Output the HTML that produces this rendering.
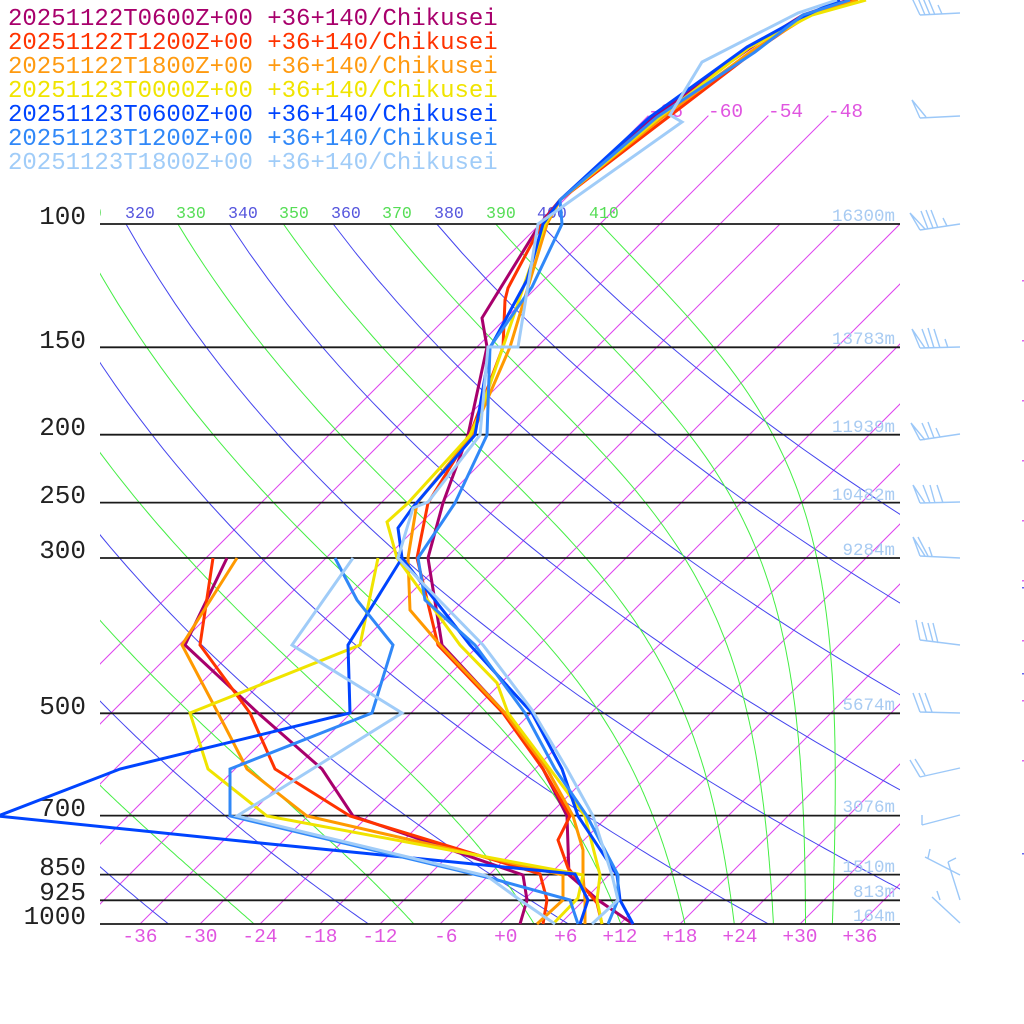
<!DOCTYPE html>
<html><head><meta charset="utf-8">
<style>
html,body{margin:0;padding:0;background:#fff;}
svg{display:block;}
text{font-family:"Liberation Mono","DejaVu Sans Mono",monospace;}
</style></head><body>
<svg xmlns="http://www.w3.org/2000/svg" width="1024" height="1024" viewBox="0 0 1024 1024">
<defs>
<clipPath id="pc"><rect x="100" y="0" width="800" height="924"/></clipPath>
<clipPath id="lc"><rect x="100" y="190" width="800" height="40"/></clipPath>
</defs>
<rect x="0" y="0" width="1024" height="1024" fill="#fff"/>
<g id="bg" clip-path="url(#pc)" fill="none"></g>

<!-- isobars -->
<g stroke="#1a1a1a" stroke-width="1.8">
<line x1="100" y1="224" x2="900" y2="224"/>
<line x1="100" y1="347.3" x2="900" y2="347.3"/>
<line x1="100" y1="434.7" x2="900" y2="434.7"/>
<line x1="100" y1="502.6" x2="900" y2="502.6"/>
<line x1="100" y1="558" x2="900" y2="558"/>
<line x1="100" y1="713.3" x2="900" y2="713.3"/>
<line x1="100" y1="815.6" x2="900" y2="815.6"/>
<line x1="100" y1="874.6" x2="900" y2="874.6"/>
<line x1="100" y1="900.3" x2="900" y2="900.3"/>
<line x1="100" y1="924" x2="900" y2="924"/>
</g>

<!-- pressure labels -->
<g font-size="26" fill="#222" text-anchor="end">
<text x="86" y="224">100</text>
<text x="86" y="348">150</text>
<text x="86" y="435">200</text>
<text x="86" y="503">250</text>
<text x="86" y="558">300</text>
<text x="86" y="714">500</text>
<text x="86" y="816">700</text>
<text x="86" y="875">850</text>
<text x="86" y="900">925</text>
<text x="86" y="924">1000</text>
</g>

<!-- height labels -->
<g font-size="17.5" fill="#a8cbf2" text-anchor="end">
<text x="895" y="221">16300m</text>
<text x="895" y="344">13783m</text>
<text x="895" y="432">11939m</text>
<text x="895" y="500">10482m</text>
<text x="895" y="555">9284m</text>
<text x="895" y="710">5674m</text>
<text x="895" y="812">3076m</text>
<text x="895" y="872">1510m</text>
<text x="895" y="897">813m</text>
<text x="895" y="921">164m</text>
</g>

<!-- theta labels -->
<g font-size="16.6" clip-path="url(#lc)">
<text x="72" y="218" fill="#55dd55">310</text>
<text x="125" y="218" fill="#5555dd">320</text>
<text x="176" y="218" fill="#55dd55">330</text>
<text x="228" y="218" fill="#5555dd">340</text>
<text x="279" y="218" fill="#55dd55">350</text>
<text x="331" y="218" fill="#5555dd">360</text>
<text x="382" y="218" fill="#55dd55">370</text>
<text x="434" y="218" fill="#5555dd">380</text>
<text x="486" y="218" fill="#55dd55">390</text>
<text x="537" y="218" fill="#5555dd">400</text>
<text x="589" y="218" fill="#55dd55">410</text>
</g>

<!-- isotherm top labels -->
<g font-size="19.5" fill="#e055e0">
<text x="648" y="117">-66</text>
<text x="708" y="117">-60</text>
<text x="768" y="117">-54</text>
<text x="828" y="117">-48</text>
</g>

<!-- bottom temperature labels -->
<g font-size="19.5" fill="#e055e0" text-anchor="end">
<text x="157.5" y="942">-36</text>
<text x="217.5" y="942">-30</text>
<text x="277.5" y="942">-24</text>
<text x="337.5" y="942">-18</text>
<text x="397.5" y="942">-12</text>
<text x="457.5" y="942">-6</text>
<text x="517.5" y="942">+0</text>
<text x="577.5" y="942">+6</text>
<text x="637.5" y="942">+12</text>
<text x="697.5" y="942">+18</text>
<text x="757.5" y="942">+24</text>
<text x="817.5" y="942">+30</text>
<text x="877.5" y="942">+36</text>
</g>

<!-- data series -->
<g fill="none" stroke-width="3" stroke-linejoin="miter" stroke-miterlimit="4">
<polyline stroke="#a8006c" points="848,0 803,15 750,48 653,117 560,200 540,224 482,318 487,347 468,435 443,503 428,558 442,645 505,713 543,769 567,816 569,875 598,900 633,924"/>
<polyline stroke="#a8006c" points="227,558 185,645 258,713 322,769 353,816 523,875 527,900 520,924"/>
<polyline stroke="#ff3300" points="856,0 812,12 756,50 667,118 560,200 542,224 508,288 505,300 503,347 470,435 428,503 417,558 438,645 503,713 543,769 570,816 558,840 568,868 597,903 602,924"/>
<polyline stroke="#ff3300" points="213,558 200,645 250,713 275,769 350,816 540,874 547,900 543,924"/>
<polyline stroke="#ff9900" points="858,0 810,15 753,50 663,117 560,200 547,224 510,347 472,435 417,503 408,558 410,610 440,645 505,713 547,769 573,816 583,850 583,875 585,900 585,924"/>
<polyline stroke="#ff9900" points="237,558 182,645 218,713 247,769 307,816 563,875 563,900 537,924"/>
<polyline stroke="#f0e400" points="866,0 812,15 750,47 660,117 560,200 545,224 503,347 480,413 470,435 408,503 387,522 397,558 460,645 497,683 508,713 550,769 585,816 600,875 597,900 602,924"/>
<polyline stroke="#f0e400" points="378,558 360,645 190,713 208,769 267,816 583,875 578,898 553,924"/>
<polyline stroke="#0044ff" points="840,0 800,18 747,47 650,117 560,200 543,224 527,280 490,348 475,435 413,507 398,528 402,558 470,645 532,713 562,769 578,816 617,875 620,900 633,924"/>
<polyline stroke="#0044ff" points="402,558 348,645 350,713 120,769 -2,816 260,843 575,874 588,900 580,924"/>
<polyline stroke="#3088f8" points="850,0 803,15 755,52 657,117 560,200 562,224 532,287 490,347 487,435 455,503 418,558 425,600 475,645 525,713 555,769 587,816 618,875 618,900 608,924"/>
<polyline stroke="#3088f8" points="335,558 357,600 393,645 372,713 230,769 230,816 490,878 570,900 578,924"/>
<polyline stroke="#a0ccf8" points="837,0 798,13 702,62 670,115 682,122 538,224 518,347 488,347 480,435 428,502 413,508 398,558 483,645 532,710 567,769 593,816 612,875 618,900 592,924"/>
<polyline stroke="#a0ccf8" points="353,558 292,645 402,713 237,816 487,876 520,900 555,924"/>
</g>

<!-- wind barbs -->
<g fill="none" stroke="#9cc8f8" stroke-width="1.4">
<path d="M920 15L960 13M920 15L912 -2M925 15L918 -2M930 15L923 -2M935 15L928 -2M942 14L938 5"/>
<path d="M920 118L960 116M920 118L912 100L926 117"/>
<path d="M920 230L960 224M920 230L910 213L925 229M928 229L921 211M933 228L926 210M938 228L931 210M947 226L943 218"/>
<path d="M920 348L960 347M920 348L912 329L925 348M929 348L922 329M934 348L928 328M940 348L934 329M948 348L945 339"/>
<path d="M920 440L960 434M920 440L911 423L925 440M929 439L922 423M934 438L928 422M940 437L936 428"/>
<path d="M920 503L960 502M920 503L913 485L925 503M930 503L923 485M935 503L930 485M943 503L937 485"/>
<path d="M920 556L960 558M920 556L913 537L925 556M928 556L918 537M932 556L929 547"/>
<path d="M920 640L960 645M920 640L916 620M927 641L922 622M933 642L928 623M938 643L933 623"/>
<path d="M920 712L960 713M920 712L913 693M926 712L919 693M932 712L925 693"/>
<path d="M920 777L960 768M920 777L910 760M925 775L915 759"/>
<path d="M922 825L960 815M922 825L922 815"/>
<path d="M925 857L960 875M930 849L928 858"/>
<path d="M948 862L960 900M948 862L956 858"/>
<path d="M932 897L960 923M940 900L937 891"/>
</g>

<!-- tiny edge marks -->
<g fill="#dd66ee">
<rect x="1022" y="280" width="2" height="1.5"/><rect x="1022" y="340" width="2" height="1.5"/>
<rect x="1022" y="400" width="2" height="1.5"/><rect x="1022" y="460" width="2" height="1.5"/>
<rect x="1022" y="520" width="2" height="1.5"/><rect x="1022" y="580" width="2" height="1.5"/>
<rect x="1022" y="640" width="2" height="1.5"/><rect x="1022" y="700" width="2" height="1.5"/>
<rect x="1022" y="760" width="2" height="1.5"/>
</g>
<g fill="#6666ee">
<rect x="1022" y="587" width="2" height="1.5"/><rect x="1022" y="673" width="2" height="1.5"/>
<rect x="1022" y="853" width="2" height="1.5"/>
</g>

<!-- legend -->
<g font-size="24">
<text x="8" y="25" fill="#a8006c">20251122T0600Z+00 +36+140/Chikusei</text>
<text x="8" y="49" fill="#ff3300">20251122T1200Z+00 +36+140/Chikusei</text>
<text x="8" y="73" fill="#ff9a10">20251122T1800Z+00 +36+140/Chikusei</text>
<text x="8" y="97" fill="#f0e400">20251123T0000Z+00 +36+140/Chikusei</text>
<text x="8" y="121" fill="#0044ff">20251123T0600Z+00 +36+140/Chikusei</text>
<text x="8" y="145" fill="#3088f8">20251123T1200Z+00 +36+140/Chikusei</text>
<text x="8" y="169" fill="#a0ccf8">20251123T1800Z+00 +36+140/Chikusei</text>
</g>
</svg>
<script>
(function(){
var NS="http://www.w3.org/2000/svg";
var bg=document.getElementById('bg');
function yOf(p){return 924-700*Math.log10(1000/p);}
function xOf(tc,y){return 500+10*tc+(924-y);}
function add(d,col){var e=document.createElementNS(NS,'path');e.setAttribute('d',d);e.setAttribute('stroke',col);e.setAttribute('stroke-width','1');e.setAttribute('fill','none');bg.appendChild(e);}
var T,p,y,d;
for(T=-66;T<=36;T+=6){var yt=(T<=-48)?115.6:224;add('M'+xOf(T,924).toFixed(1)+' 924L'+xOf(T,yt).toFixed(1)+' '+yt,'#dd44ee');}
for(var th=240;th<=400;th+=20){d='';for(p=1000;p>=100;p-=10){y=yOf(p);var t=th*Math.pow(p/1000,0.2857)-273.15;d+=(d?'L':'M')+xOf(t,y).toFixed(1)+' '+y.toFixed(1);}add(d,'#4444ee');}
function es(tc){return 6.112*Math.exp(17.67*tc/(tc+243.5));}
function thetae(tk,pp){var e=es(tk-273.15);var r=622*e/(pp-e);return tk*Math.pow(1000/pp,0.2854*(1-0.00028*r))*Math.exp((3.376/tk-0.00254)*r*(1+0.00081*r));}
function dTdp(pp,TK){var e=es(TK-273.15);var rs=0.622*e/(pp-e);var Rd=287.04,Lv=2.501e6,cp=1005.7,eps=0.622;return (Rd*TK+Lv*rs)/(pp*(cp+Lv*Lv*rs*eps/(Rd*TK*TK)));}
var tes=[250,270,290,310,330,350,370,390,410];
for(var i=0;i<tes.length;i++){
 var lo=200,hi=320;for(var k=0;k<60;k++){var mid=(lo+hi)/2;if(thetae(mid,1000)>tes[i])hi=mid;else lo=mid;}
 var TK=(lo+hi)/2;p=1000;d='M'+xOf(TK-273.15,924).toFixed(1)+' 924';
 var n=0;
 while(p>100.01){var k1=dTdp(p,TK);var k2=dTdp(p-0.5,TK-0.5*k1);TK-=k2;p-=1;n++;
  if(n%5==0){y=yOf(p);d+='L'+xOf(TK-273.15,y).toFixed(1)+' '+y.toFixed(1);}}
 add(d,'#44ee44');
}
})();
</script>
</body></html>
